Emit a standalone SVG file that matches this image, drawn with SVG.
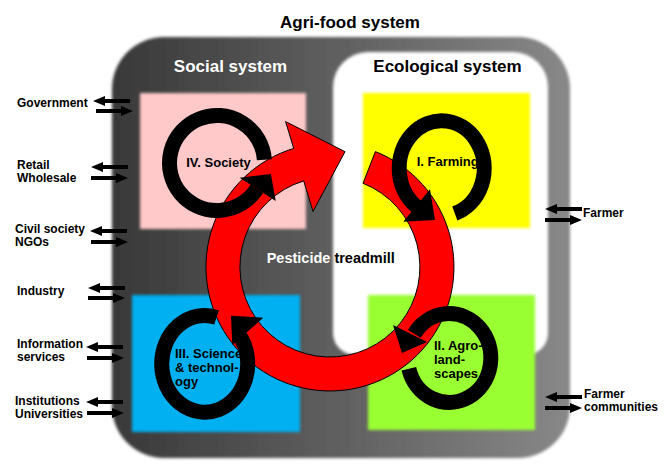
<svg xmlns="http://www.w3.org/2000/svg" width="668" height="468" viewBox="0 0 668 468">
<defs>
<linearGradient id="gray" x1="0" y1="0" x2="1" y2="0">
<stop offset="0" stop-color="#383838"/>
<stop offset="1" stop-color="#888888"/>
</linearGradient>
<filter id="soft" x="-5%" y="-5%" width="110%" height="110%"><feGaussianBlur stdDeviation="1.6"/></filter>
<path id="al" d="M0,0 L12,-5 L12,-2 L37,-2 L37,2 L12,2 L12,5 Z"/>
<path id="ar" d="M37,0 L25,-5 L25,-2 L0,-2 L0,2 L25,2 L25,5 Z"/>
<style>
text{font-family:"Liberation Sans",Arial,sans-serif;font-weight:bold}
.t17{font-size:17px}
.lbl{font-size:12px;fill:#000}
.node{font-size:13px;fill:#000}
.ring{fill:none;stroke:#000;stroke-width:15}
.head{fill:#000}
.sarrow{fill:#000}
</style>
</defs>
<rect width="668" height="468" fill="#fff"/>
<g id="agri-food-system">
<rect x="112" y="37" width="458" height="421" rx="52" fill="url(#gray)" filter="url(#soft)"/>
<text class="t17" x="350" y="27.5" text-anchor="middle">Agri-food system</text>
</g>
<g id="social-system">
<text class="t17" x="230.5" y="71.5" text-anchor="middle" fill="#fff">Social system</text>
</g>
<g id="ecological-system">
<path d="M333,87 A35,35 0 0 1 368,52 L513,52 A35,35 0 0 1 548,87 L548,333 A22,22 0 0 1 526,355 L355,355 A22,22 0 0 1 333,333 Z" fill="#fff" filter="url(#soft)"/>
<text class="t17" x="447.5" y="71.5" text-anchor="middle">Ecological system</text>
</g>
<g id="quadrants" filter="url(#soft)">
<rect x="140" y="93" width="166" height="136" fill="#ffc9c9"/>
<rect x="363" y="93" width="167" height="135" fill="#ffff00"/>
<rect x="132" y="295" width="168" height="137" fill="#00b0f0"/>
<rect x="368" y="295" width="167" height="135" fill="#99ff33"/>
</g>
<g id="connectors">
<g id="treadmill">
<path d="M375.4,151.6 A124,124 0 1 1 293.7,148.4 L285.6,121.6 L345,151.7 L313,211.5 L303.7,180.9 A90,90 0 1 0 363.0,183.3 Z" fill="#ff0000" stroke="#000" stroke-width="1"/>
<text x="266.7" y="263.3" style="font-size:14.5px"><tspan fill="#fff">Pesticide</tspan><tspan fill="#000"> treadmill</tspan></text>
</g>
<g id="side-arrows" class="sarrow">
<use href="#al" x="93" y="101"/><use href="#ar" x="96" y="111"/>
<use href="#al" x="91" y="167"/><use href="#ar" x="91" y="178"/>
<use href="#al" x="90" y="231"/><use href="#ar" x="91" y="242"/>
<use href="#al" x="88" y="288"/><use href="#ar" x="88" y="298"/>
<use href="#al" x="86" y="347"/><use href="#ar" x="87" y="358"/>
<use href="#al" x="86" y="402"/><use href="#ar" x="87" y="413"/>
<use href="#al" x="545" y="209"/><use href="#ar" x="545" y="220"/>
<use href="#al" x="545" y="397"/><use href="#ar" x="545" y="408"/>
</g>
</g>
<g id="society">
<path class="ring" d="M264.38,159.69 A47.5,47.5 0 1 0 256.84,188.87"/>
<polygon class="head" points="239.6,177.7 270.9,174 275.7,201.1"/>
<text class="node" x="218.5" y="166.7" text-anchor="middle">IV. Society</text>
</g>
<g id="farming">
<path class="ring" d="M454.83,213.48 A42.5,47.5 0 1 0 419.18,208.58"/>
<polygon class="head" points="403.3,221.7 430,189.3 435,220"/>
<text class="node" x="447.7" y="165.7" text-anchor="middle">I. Farming</text>
</g>
<g id="agro-landscapes">
<path class="ring" d="M408.84,368.74 A41.6,44.4 0 1 0 414.31,333.82"/>
<polygon class="head" points="393,325 427,342 402,353"/>
<text class="node" x="434" y="350"><tspan x="434">II. Agro-</tspan><tspan x="434" dy="14">land-</tspan><tspan x="434" dy="14">scapes</tspan></text>
</g>
<g id="science-technology">
<path class="ring" d="M216.55,317.27 A43,48.4 0 1 0 239.49,335.35"/>
<polygon class="head" points="231,315.7 263.3,317.7 232.3,345"/>
<text class="node" x="175" y="358.3"><tspan x="175">III. Science</tspan><tspan x="175" dy="14">&amp; technol-</tspan><tspan x="175" dy="14">ogy</tspan></text>
</g>
<g id="government"><text class="lbl" x="17" y="107">Government</text></g>
<g id="retail-wholesale"><text class="lbl" x="17" y="169"><tspan x="17">Retail</tspan><tspan x="17" dy="13">Wholesale</tspan></text></g>
<g id="civil-society"><text class="lbl" x="15" y="233"><tspan x="15">Civil society</tspan><tspan x="15" dy="12.5">NGOs</tspan></text></g>
<g id="industry"><text class="lbl" x="17" y="295">Industry</text></g>
<g id="information-services"><text class="lbl" x="17" y="348"><tspan x="17">Information</tspan><tspan x="17" dy="13">services</tspan></text></g>
<g id="institutions"><text class="lbl" x="15" y="405"><tspan x="15">Institutions</tspan><tspan x="15" dy="12.5">Universities</tspan></text></g>
<g id="farmer"><text class="lbl" x="583" y="217">Farmer</text></g>
<g id="farmer-communities"><text class="lbl" x="584" y="398"><tspan x="584">Farmer</tspan><tspan x="584" dy="13">communities</tspan></text></g>
</svg>
